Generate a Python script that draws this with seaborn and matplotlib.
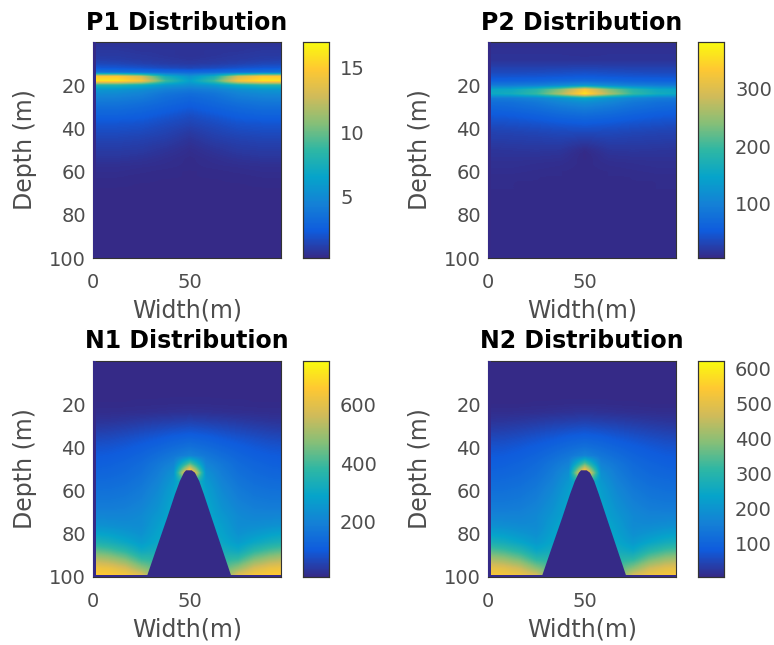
import matplotlib
matplotlib.use("Agg")
import matplotlib.pyplot as plt
import seaborn as sns
import numpy as np
from matplotlib.colors import LinearSegmentedColormap

sns.set_style("white")
plt.rcParams['font.family'] = ['DejaVu Sans']

parula_colors = ["#352a87", "#0f5cdd", "#1481d6", "#06a4ca", "#2eb7a4",
                 "#87bf77", "#d1bb59", "#fec832", "#f9fb0e"]
parula = LinearSegmentedColormap.from_list("parula", parula_colors)

# P panels: rows every 2 m, columns every 12.5 m
p_dx = 12.5
p_dy = 2
p1_grid = [
    [.6, .6, .6, .6, .6, .6, .6, .6, .6],
    [.7, .7, .7, .6, .6, .6, .7, .7, .7],
    [.8, .8, .7, .7, .6, .7, .7, .8, .8],
    [.9, .9, .8, .7, .6, .7, .8, .9, .9],
    [1.1, 1.0, .9, .8, .7, .8, .9, 1.0, 1.1],
    [1.5, 1.4, 1.2, 1.0, .9, 1.0, 1.2, 1.4, 1.5],
    [2.2, 2.1, 1.9, 1.6, 1.4, 1.6, 1.9, 2.1, 2.2],
    [3.8, 3.7, 3.5, 3.2, 3.0, 3.2, 3.5, 3.7, 3.8],
    [15.0, 15.0, 13.0, 7.5, 5.5, 7.5, 13.0, 15.0, 15.0],
    [16.0, 16.0, 14.5, 9.0, 6.3, 9.0, 14.5, 16.0, 16.0],
    [8.0, 8.0, 7.2, 5.8, 5.2, 5.8, 7.2, 8.0, 8.0],
    [5.8, 5.7, 5.2, 4.4, 4.0, 4.4, 5.2, 5.7, 5.8],
    [5.0, 4.9, 4.5, 3.7, 3.3, 3.7, 4.5, 4.9, 5.0],
    [4.4, 4.3, 4.0, 3.3, 2.9, 3.3, 4.0, 4.3, 4.4],
    [3.9, 3.8, 3.5, 3.0, 2.6, 3.0, 3.5, 3.8, 3.9],
    [3.4, 3.4, 3.1, 2.7, 2.3, 2.7, 3.1, 3.4, 3.4],
    [3.0, 3.0, 2.8, 2.4, 2.0, 2.4, 2.8, 3.0, 3.0],
    [2.7, 2.7, 2.5, 2.1, 1.7, 2.1, 2.5, 2.7, 2.7],
    [2.3, 2.3, 2.2, 1.8, 1.5, 1.8, 2.2, 2.3, 2.3],
    [2.0, 2.0, 1.9, 1.6, 1.3, 1.6, 1.9, 2.0, 2.0],
    [1.8, 1.8, 1.7, 1.4, 1.1, 1.4, 1.7, 1.8, 1.8],
    [1.6, 1.6, 1.5, 1.25, .9, 1.25, 1.5, 1.6, 1.6],
    [1.4, 1.4, 1.3, 1.1, .75, 1.1, 1.3, 1.4, 1.4],
    [1.25, 1.25, 1.15, .95, .6, .95, 1.15, 1.25, 1.25],
    [1.1, 1.1, 1.0, .8, .5, .8, 1.0, 1.1, 1.1],
    [.95, .95, .9, .65, .4, .65, .9, .95, .95],
    [.85, .85, .75, .55, .35, .55, .75, .85, .85],
    [.7, .7, .6, .45, .3, .45, .6, .7, .7],
    [.55, .55, .5, .4, .3, .4, .5, .55, .55],
    [.45, .45, .4, .35, .3, .35, .4, .45, .45],
    [.4, .4, .35, .3, .25, .3, .35, .4, .4],
    [.35, .35, .3, .3, .25, .3, .3, .35, .35],
    [.3, .3, .3, .25, .25, .25, .3, .3, .3],
    [.3, .3, .25, .25, .25, .25, .25, .3, .3],
    [.25, .25, .25, .25, .2, .25, .25, .25, .25],
    [.25, .25, .25, .2, .2, .2, .25, .25, .25],
    [.2, .2, .2, .2, .2, .2, .2, .2, .2],
    [.2, .2, .2, .2, .2, .2, .2, .2, .2],
    [.2, .2, .2, .2, .2, .2, .2, .2, .2],
    [.2, .2, .2, .2, .2, .2, .2, .2, .2],
    [.2, .2, .2, .2, .2, .2, .2, .2, .2],
    [.2, .2, .2, .2, .2, .2, .2, .2, .2],
    [.2, .2, .2, .2, .2, .2, .2, .2, .2],
    [.2, .2, .2, .2, .2, .2, .2, .2, .2],
    [.2, .2, .2, .2, .2, .2, .2, .2, .2],
    [.2, .2, .2, .2, .2, .2, .2, .2, .2],
    [.2, .2, .2, .2, .2, .2, .2, .2, .2],
    [.2, .2, .2, .2, .2, .2, .2, .2, .2],
    [.2, .2, .2, .2, .2, .2, .2, .2, .2],
    [.2, .2, .2, .2, .2, .2, .2, .2, .2],
    [.2, .2, .2, .2, .2, .2, .2, .2, .2],
]
p2_grid = [
    [12, 12, 12, 12, 12, 12, 12, 12, 12],
    [12, 12, 12, 12, 12, 12, 12, 12, 12],
    [13, 13, 13, 13, 13, 13, 13, 13, 13],
    [14, 14, 14, 14, 13, 14, 14, 14, 14],
    [15, 15, 15, 15, 15, 15, 15, 15, 15],
    [20, 20, 20, 20, 20, 20, 20, 20, 20],
    [28, 28, 28, 29, 30, 29, 28, 28, 28],
    [35, 35, 36, 38, 40, 38, 36, 35, 35],
    [45, 46, 47, 49, 52, 49, 47, 46, 45],
    [60, 61, 63, 67, 72, 67, 63, 61, 60],
    [90, 92, 96, 108, 125, 108, 96, 92, 90],
    [150, 155, 185, 240, 330, 240, 185, 155, 150],
    [155, 165, 195, 265, 360, 265, 195, 165, 155],
    [90, 95, 105, 125, 150, 125, 105, 95, 90],
    [75, 78, 88, 105, 118, 105, 88, 78, 75],
    [66, 70, 78, 90, 100, 90, 78, 70, 66],
    [58, 61, 68, 78, 85, 78, 68, 61, 58],
    [50, 53, 59, 67, 72, 67, 59, 53, 50],
    [44, 46, 51, 57, 61, 57, 51, 46, 44],
    [38, 40, 43, 48, 51, 48, 43, 40, 38],
    [32, 34, 37, 40, 42, 40, 37, 34, 32],
    [28, 29, 31, 34, 34, 34, 31, 29, 28],
    [25, 26, 27, 29, 27, 29, 27, 26, 25],
    [22, 23, 24, 25, 20, 25, 24, 23, 22],
    [19, 20, 21, 21, 14, 21, 21, 20, 19],
    [16, 17, 18, 17, 8, 17, 18, 17, 16],
    [15, 15, 15, 14, 6, 14, 15, 15, 15],
    [13, 13, 13, 12, 6, 12, 13, 13, 13],
    [12, 12, 11, 10, 7, 10, 11, 12, 12],
    [11, 11, 10, 9, 7, 9, 10, 11, 11],
    [10, 10, 9, 8, 7, 8, 9, 10, 10],
    [9, 9, 8, 8, 7, 8, 8, 9, 9],
    [9, 8, 8, 7, 7, 7, 8, 8, 9],
    [8, 8, 7, 7, 7, 7, 7, 8, 8],
    [8, 8, 7, 7, 7, 7, 7, 8, 8],
    [7, 7, 7, 7, 7, 7, 7, 7, 7],
    [7, 7, 7, 7, 7, 7, 7, 7, 7],
    [7, 7, 7, 7, 7, 7, 7, 7, 7],
    [7, 7, 7, 7, 7, 7, 7, 7, 7],
    [7, 7, 7, 7, 7, 7, 7, 7, 7],
    [7, 7, 7, 7, 7, 7, 7, 7, 7],
    [7, 7, 7, 7, 7, 7, 7, 7, 7],
    [7, 7, 7, 7, 7, 7, 7, 7, 7],
    [7, 7, 7, 7, 7, 7, 7, 7, 7],
    [7, 7, 7, 7, 7, 7, 7, 7, 7],
    [7, 7, 7, 7, 7, 7, 7, 7, 7],
    [7, 7, 7, 7, 7, 7, 7, 7, 7],
    [7, 7, 7, 7, 7, 7, 7, 7, 7],
    [7, 7, 7, 7, 7, 7, 7, 7, 7],
    [7, 7, 7, 7, 7, 7, 7, 7, 7],
    [7, 7, 7, 7, 7, 7, 7, 7, 7],
]

# N panels: rows every 4 m, columns every 100/12 m
n_dx = 100 / 12
n_dy = 4
n1_grid = [
    [12, 12, 12, 12, 12, 12, 12, 12, 12, 12, 12, 12, 12],
    [12, 12, 12, 12, 12, 12, 12, 12, 12, 12, 12, 12, 12],
    [12, 12, 12, 12, 12, 12, 12, 12, 12, 12, 12, 12, 12],
    [12, 12, 12, 12, 12, 12, 12, 12, 12, 12, 12, 12, 12],
    [12, 12, 12, 12, 12, 12, 12, 12, 12, 12, 12, 12, 12],
    [13, 13, 13, 14, 14, 15, 15, 15, 14, 14, 13, 13, 13],
    [18, 18, 19, 20, 22, 24, 26, 24, 22, 20, 19, 18, 18],
    [28, 30, 34, 39, 44, 48, 52, 48, 44, 39, 34, 30, 28],
    [45, 49, 55, 63, 71, 79, 85, 79, 71, 63, 55, 49, 45],
    [66, 70, 78, 88, 99, 112, 120, 112, 99, 88, 78, 70, 66],
    [85, 89, 97, 109, 123, 140, 155, 140, 123, 109, 97, 89, 85],
    [100, 104, 112, 126, 147, 172, 200, 172, 147, 126, 112, 104, 100],
    [112, 117, 127, 142, 172, 205, 440, 205, 172, 142, 127, 117, 112],
    [126, 129, 138, 154, 187, 240, 760, 240, 187, 154, 138, 129, 126],
    [140, 142, 150, 167, 202, 262, 400, 262, 202, 167, 150, 142, 140],
    [155, 156, 163, 180, 217, 280, 400, 280, 217, 180, 163, 156, 155],
    [170, 170, 176, 192, 230, 290, 400, 290, 230, 192, 176, 170, 170],
    [185, 185, 190, 206, 242, 300, 400, 300, 242, 206, 190, 185, 185],
    [210, 208, 208, 220, 257, 300, 400, 300, 257, 220, 208, 208, 210],
    [240, 233, 225, 225, 272, 320, 400, 320, 272, 225, 225, 233, 240],
    [290, 278, 258, 240, 285, 320, 400, 320, 285, 240, 258, 278, 290],
    [350, 330, 300, 265, 300, 320, 400, 320, 300, 265, 300, 330, 350],
    [440, 415, 375, 310, 330, 340, 400, 340, 330, 310, 375, 415, 440],
    [540, 515, 470, 390, 370, 360, 400, 360, 370, 390, 470, 515, 540],
    [630, 615, 575, 490, 420, 400, 400, 400, 420, 490, 575, 615, 630],
    [670, 670, 660, 620, 440, 400, 400, 400, 440, 620, 660, 670, 670],
]
n2_grid = [
    [4, 4, 4, 4, 4, 4, 4, 4, 4, 4, 4, 4, 4],
    [4, 4, 4, 4, 4, 4, 4, 4, 4, 4, 4, 4, 4],
    [4, 4, 4, 4, 4, 4, 4, 4, 4, 4, 4, 4, 4],
    [4, 4, 4, 4, 4, 4, 4, 4, 4, 4, 4, 4, 4],
    [4, 4, 4, 4, 4, 4, 4, 4, 4, 4, 4, 4, 4],
    [5, 5, 5, 6, 6, 7, 7, 7, 6, 6, 5, 5, 5],
    [10, 10, 11, 12, 14, 16, 18, 16, 14, 12, 11, 10, 10],
    [19, 21, 24, 28, 32, 35, 38, 35, 32, 28, 24, 21, 19],
    [33, 36, 41, 47, 54, 60, 65, 60, 54, 47, 41, 36, 33],
    [50, 53, 59, 67, 76, 87, 93, 87, 76, 67, 59, 53, 50],
    [65, 68, 75, 84, 96, 110, 122, 110, 96, 84, 75, 68, 65],
    [77, 80, 87, 98, 115, 135, 162, 135, 115, 98, 87, 80, 77],
    [87, 91, 99, 111, 135, 162, 360, 162, 135, 111, 99, 91, 87],
    [98, 101, 108, 121, 148, 190, 620, 190, 148, 121, 108, 101, 98],
    [110, 112, 118, 132, 160, 208, 320, 208, 160, 132, 118, 112, 110],
    [122, 123, 129, 143, 173, 222, 320, 222, 173, 143, 129, 123, 122],
    [134, 134, 139, 153, 184, 230, 320, 230, 184, 153, 139, 134, 134],
    [146, 146, 150, 164, 194, 240, 320, 240, 194, 164, 150, 146, 146],
    [166, 164, 164, 175, 206, 240, 320, 240, 206, 175, 164, 164, 166],
    [190, 184, 178, 178, 218, 256, 320, 256, 218, 178, 178, 184, 190],
    [230, 220, 204, 190, 228, 256, 320, 256, 228, 190, 204, 220, 230],
    [278, 262, 238, 210, 240, 256, 320, 256, 240, 210, 238, 262, 278],
    [350, 330, 298, 246, 264, 272, 320, 272, 264, 246, 298, 330, 350],
    [430, 410, 374, 310, 296, 288, 320, 288, 296, 310, 374, 410, 430],
    [504, 492, 460, 392, 336, 320, 320, 320, 336, 392, 460, 492, 504],
    [536, 536, 528, 496, 352, 320, 320, 320, 352, 496, 528, 536, 536],
]

mountain_x = [27.7, 32.3, 38.3, 42.3, 44.8, 46.9, 48, 50.9, 52.6, 54.8, 57.2, 61.2, 67, 71.5]
mountain_top = [100, 88, 72.5, 61.7, 55.6, 51.7, 50.6, 50.6, 51.7, 55.6, 61.7, 72.5, 88, 100]

titles = ["P1 Distribution", "P2 Distribution", "N1 Distribution", "N2 Distribution"]
grids = [p1_grid, p2_grid, n1_grid, n2_grid]
vmins = [0.2, 5, 10, 3]
vmaxs = [17, 382, 750, 620]
cbar_ticks = [[5, 10, 15], [100, 200, 300], [200, 400, 600],
              [100, 200, 300, 400, 500, 600]]
depth_ticks = [20, 40, 60, 80, 100]
width_ticks = [0, 50]

W, H = 774, 645
lefts = [93, 488, 93, 488]
tops = [42, 42, 361, 361]

fig = plt.figure(figsize=(W / 100, H / 100), dpi=100)

for i in range(4):
    ax = fig.add_axes([lefts[i] / W, 1 - (tops[i] + 216) / H, 188 / W, 216 / H])
    cax = fig.add_axes([(lefts[i] + 210) / W, 1 - (tops[i] + 216) / H, 26 / W, 216 / H])
    dx, dy = (p_dx, p_dy) if i < 2 else (n_dx, n_dy)
    grid = np.array(grids[i], dtype=float)

    sns.heatmap(grid, ax=ax, cbar_ax=cax, cmap=parula, vmin=vmins[i], vmax=vmaxs[i],
                xticklabels=False, yticklabels=False)

    # same cells again, smoothed on the values so blends follow the colormap
    ax.imshow(grid, cmap=parula, vmin=vmins[i], vmax=vmaxs[i], aspect='auto',
              interpolation='bilinear', interpolation_stage='data', zorder=2,
              extent=(-0.5, grid.shape[1] - 0.5, grid.shape[0] - 0.5, -0.5))

    # dark mountain and the dark frame cells of the model
    base = parula(0.0)
    if i >= 2:
        ax.fill([x / dx for x in mountain_x], [d / dy for d in mountain_top],
                color=base, lw=0, zorder=3)
        ax.axhspan(99.3 / dy, 100 / dy, color=base, lw=0, zorder=3)
    ax.axvspan(0, 1.7 / dx, color=base, lw=0, zorder=3)

    ax.set_xlim(0, 97 / dx)
    ax.set_ylim(100 / dy, 0)
    ax.set_xticks([t / dx for t in width_ticks])
    ax.set_xticklabels(width_ticks)
    ax.set_yticks([t / dy for t in depth_ticks])
    ax.set_yticklabels(depth_ticks)
    ax.tick_params(axis='both', labelsize=14, direction='in', length=2, width=0.6,
                   bottom=True, left=True, colors='.15', labelcolor='.3', rotation=0)
    ax.tick_params(axis='x', pad=11)
    ax.tick_params(axis='y', pad=5)
    ax.set_xlabel("Width(m)", fontsize=17, color='.3')
    ax.xaxis.set_label_coords(0.5, -0.187)
    ax.set_ylabel("Depth (m)", fontsize=17, color='.3')
    ax.yaxis.set_label_coords(-56 / 188, 0.5)
    ax.set_title(titles[i], fontsize=17, fontweight='bold', color='k', pad=9)
    for spine in ax.spines.values():
        spine.set_visible(True)
        spine.set_linewidth(0.8)
        spine.set_color('.2')

    cax.set_yticks(cbar_ticks[i])
    cax.set_yticklabels(cbar_ticks[i])
    cax.tick_params(labelsize=14, direction='in', length=2, width=0.6, right=True,
                    labelcolor='.3', pad=8)
    for spine in cax.spines.values():
        spine.set_visible(True)
        spine.set_linewidth(0.8)
        spine.set_color('.2')

fig.savefig("out.png", dpi=100)
